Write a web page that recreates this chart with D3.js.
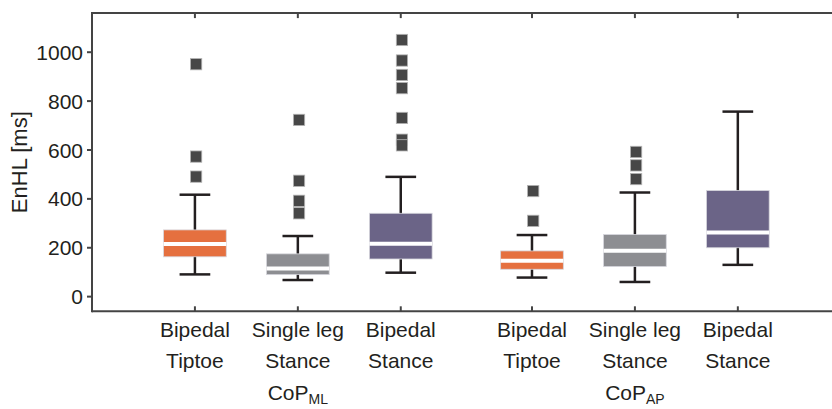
<!DOCTYPE html>
<html><head><meta charset="utf-8">
<script src="https://cdn.jsdelivr.net/npm/d3@7"></script>
<style>body{margin:0;background:#fff}svg{display:block;font-family:"Liberation Sans",Arial,sans-serif}</style>
</head><body><svg id="c" width="832" height="409"></svg>
<script>
const categories = [["Bipedal","Tiptoe"],["Single leg","Stance"],["Bipedal","Stance"],["Bipedal","Tiptoe"],["Single leg","Stance"],["Bipedal","Stance"]];
const positions = [1,2,3,4.275,5.275,6.275];
const groups = [{main:"CoP",sub:"ML",at:2},{main:"CoP",sub:"AP",at:5.275}];
const whiskerLow  = [91, 68, 98, 78, 60, 130];
const q1          = [163, 90, 154, 112, 123, 200];
const median      = [215, 115, 216, 147, 188, 262];
const q3          = [273, 175, 341, 187, 254, 434];
const whiskerHigh = [417, 248, 490, 252, 426, 757];
const outliers = [[951,573,491],[723,474,392,341],[1050,966,907,853,731,642,619],[432,310],[592,537,481],[]];
const colors = ["#E5703F","#8D8E92","#6B6487","#E5703F","#8D8E92","#6B6487"];
const yTicks = [0,200,400,600,800,1000];

const svg = d3.select("#c");
const x = d3.scaleLinear().domain([0,7.19]).range([92,832]);
const y = d3.scaleLinear().domain([-60,1160]).range([311.3,13.1]);
const boxW = 62.7, capW = 30.7, outS = 11.3;
const ink = "#231f20", frame = "#444";

// frame
svg.append("line").attr("x1",x(0)).attr("x2",832).attr("y1",y(1160)).attr("y2",y(1160)).attr("stroke",frame).attr("stroke-width",2);
svg.append("line").attr("x1",x(0)).attr("x2",832).attr("y1",y(-60)).attr("y2",y(-60)).attr("stroke",frame).attr("stroke-width",2);
svg.append("line").attr("x1",x(0)).attr("x2",x(0)).attr("y1",y(1160)-1).attr("y2",y(-60)+1).attr("stroke",frame).attr("stroke-width",2);

// y ticks
const yg = svg.append("g");
yTicks.forEach(v=>{
  yg.append("line").attr("x1",x(0)-5).attr("x2",x(0)).attr("y1",y(v)).attr("y2",y(v)).attr("stroke",frame).attr("stroke-width",2);
  yg.append("text").attr("x",x(0)-9).attr("y",y(v)).attr("dy","0.36em").attr("text-anchor","end")
    .attr("font-size",21).attr("fill","#231f20").text(v);
});
svg.append("text").attr("transform",`translate(27,${y(550)}) rotate(-90)`).attr("text-anchor","middle")
  .attr("font-size",22).attr("fill","#231f20").text("EnHL [ms]");

// x ticks top & bottom
positions.forEach(p=>{
  svg.append("line").attr("x1",x(p)).attr("x2",x(p)).attr("y1",y(-60)).attr("y2",y(-60)-5).attr("stroke",frame).attr("stroke-width",2);
  svg.append("line").attr("x1",x(p)).attr("x2",x(p)).attr("y1",y(1160)).attr("y2",y(1160)+5).attr("stroke",frame).attr("stroke-width",2);
});

// boxes
positions.forEach((p,i)=>{
  const g = svg.append("g");
  const cx = x(p);
  g.append("line").attr("x1",cx).attr("x2",cx).attr("y1",y(whiskerLow[i])).attr("y2",y(whiskerHigh[i])).attr("stroke",ink).attr("stroke-width",2.5);
  g.append("rect").attr("x",cx-boxW/2).attr("width",boxW).attr("y",y(q3[i])).attr("height",y(q1[i])-y(q3[i]))
    .attr("fill",colors[i]).attr("stroke","#d6d6dc").attr("stroke-width",0.8);
  g.append("line").attr("x1",cx-boxW/2).attr("x2",cx+boxW/2).attr("y1",y(median[i])).attr("y2",y(median[i])).attr("stroke","#fff").attr("stroke-width",4);
  [whiskerLow[i],whiskerHigh[i]].forEach(v=>{
    g.append("line").attr("x1",cx-capW/2).attr("x2",cx+capW/2).attr("y1",y(v)).attr("y2",y(v)).attr("stroke",ink).attr("stroke-width",2.5);
  });
  outliers[i].forEach(v=>{
    g.append("rect").attr("x",cx-outS/2+1.2).attr("y",y(v)-outS/2).attr("width",outS).attr("height",outS)
      .attr("fill","#474747").attr("stroke","#b5b5b5").attr("stroke-width",0.8);
  });
  // labels
  categories[i].forEach((t,k)=>{
    svg.append("text").attr("x",cx).attr("y",336.7+k*31.6).attr("text-anchor","middle").attr("font-size",21).attr("fill","#231f20").text(t);
  });
});

groups.forEach(gr=>{
  const t = svg.append("text").attr("x",x(gr.at)).attr("y",400).attr("text-anchor","middle").attr("font-size",21).attr("fill","#231f20");
  t.append("tspan").text(gr.main);
  t.append("tspan").attr("font-size",14).attr("dy",4).text(gr.sub);
});
</script></body></html>
